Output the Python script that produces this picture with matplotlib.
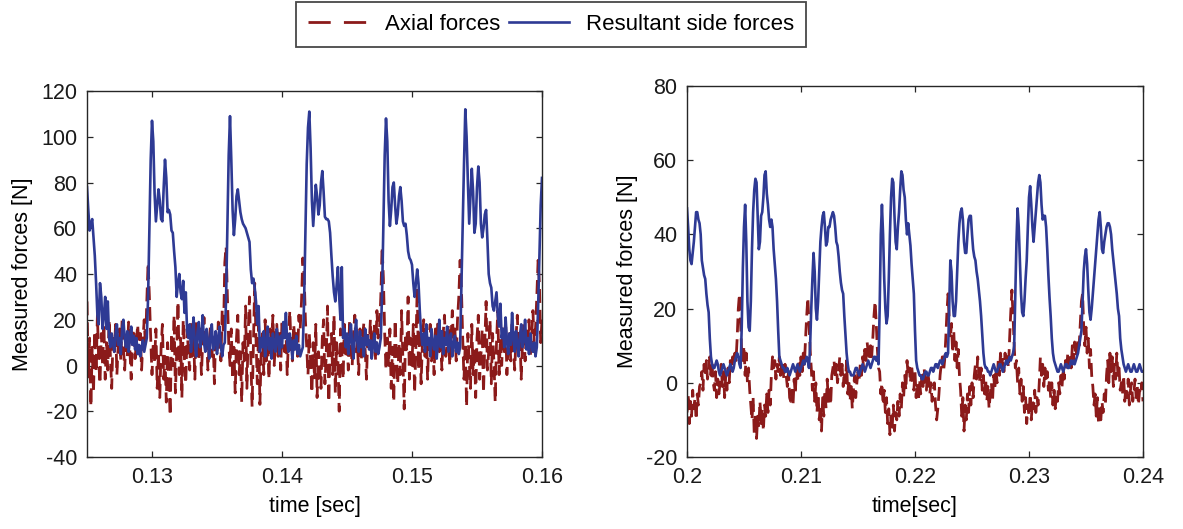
import numpy as np
import matplotlib
matplotlib.use("Agg")
import matplotlib.pyplot as plt
from matplotlib.lines import Line2D

plt.rcParams['font.family'] = ['Liberation Sans', 'DejaVu Sans']
plt.rcParams['lines.scale_dashes'] = False
plt.rcParams['axes.unicode_minus'] = False

# ---------------- data ----------------
left_time_range = (0.125, 0.160)
right_time_range = (0.200, 0.240)

left_side_force = [
    78, 68, 59, 62, 64, 56, 48, 36, 22, 18, 36, 30, 16, 22, 30, 16, 28, 12, 8, 14,
    10, 6, 14, 18, 9, 12, 5, 16, 20, 12, 8, 15, 6, 11, 17, 9, 13, 7, 12, 5, 9, 4, 8, 11, 6, 9,
    12, 30, 60, 90, 107, 98, 75, 63, 70, 77, 72, 64, 63, 78, 90, 82, 67, 68, 66, 59, 58, 50, 43, 30, 36, 40, 32, 29, 37, 23, 32, 15,
    12, 18, 6, 14, 21, 9, 4, 15, 19, 8, 12, 22, 10, 6, 16, 11, 3, 13, 18, 7, 10, 15, 5, 12, 17, 8, 4, 9,
    10, 30, 62, 92, 109, 90, 68, 57, 64, 74, 77, 72, 67, 64, 62, 61, 60, 58, 56, 54, 42, 36, 38, 34, 28, 18, 26, 6,
    12, 8, 15, 4, 10, 17, 7, 12, 3, 14, 9, 6, 16, 11, 5, 13, 8, 19, 12, 23, 10, 6, 14, 9, 3, 11, 7, 13, 5, 9, 4, 6,
    8, 28, 58, 88, 104, 111, 95, 72, 61, 70, 79, 74, 66, 70, 80, 85, 76, 65, 64, 64, 63, 58, 48, 39, 32, 28, 35, 43, 30, 20, 43, 12, 16,
    8, 14, 5, 11, 18, 9, 3, 13, 20, 10, 6, 15, 8, 12, 4, 16, 9, 13, 7, 11, 3, 9, 14, 6, 10, 5, 8,
    12, 32, 62, 92, 108, 98, 72, 61, 68, 78, 80, 70, 62, 66, 74, 78, 72, 63, 61, 62, 57, 50, 47, 46, 44, 36, 30, 36, 42, 36, 24, 14, 9,
    14, 6, 18, 9, 12, 4, 16, 10, 7, 13, 3, 11, 20, 8, 15, 5, 12, 9, 17, 6, 11, 14, 4, 9, 13, 6, 10, 5,
    8, 35, 62, 88, 112, 100, 80, 62, 74, 86, 76, 58, 62, 78, 87, 80, 62, 56, 60, 66, 68, 55, 40, 36, 34, 26, 24, 28, 32, 22, 17, 27, 12,
    16, 8, 21, 11, 5, 14, 9, 23, 12, 6, 15, 10, 4, 13, 18, 8, 11, 20, 7, 12, 5, 14, 9, 6, 10, 4,
    8, 25, 48, 70, 82,
]

left_axial_force = [
    28, -5, 12, -18, 8, -12, 15, -3, 22, 2,
    -8, 14, 0, 18, -6, 10, -2, 20, 4, -10,
    12, 6, 18, -4, 9, 16, 2, 20, 8, -2,
    14, 4, 19, 7, -6, 12, 16, 3, 10, 18,
    5, 14, -2, 11, 20, 8, 28, 45, 30, 12,
    -4, 10, 2, 16, -10, 6, -14, 8, 18, -6,
    4, -16, 10, -8, -22, 14, 0, 22, -12, 6,
    28, -4, 12, -14, 20, 2, -8, 16, 6, -2,
    18, 4, 12, -6, 20, 8, 2, 16, -4, 10,
    21, 6, 14, -2, 9, 18, 4, 12, -8, 15,
    6, 19, 10, 2, 24, 14, 45, 52, 30, 10,
    0, 16, -6, 8, -12, 12, 22, -4, 6, -16,
    10, 2, 26, -10, 14, 30, 4, -18, 8, 36,
    12, -8, 18, -17, 6, 14, -4, 20, 2, 10,
    -6, 16, 8, 22, 0, 12, 18, 4, 14, -2,
    20, 10, 6, 16, -4, 12, 24, 8, 2, 18,
    10, 14, 4, 22, 16, 28, 47, 40, 20, 8,
    -4, 14, 2, -12, 10, -6, 18, -14, 6, 0,
    -10, 12, 20, -8, 4, 26, -16, 8, 14, -4,
    22, -12, 10, 2, -20, 16, 6, -6, 18, 4,
    12, -2, 20, 8, 0, 14, 22, 6, 10, -4,
    16, 2, 12, 19, 6, -6, 14, 8, 20, 4,
    10, 18, 2, 24, 12, 16, 30, 52, 38, 14,
    -2, 12, 0, 16, -10, 8, -16, 20, 4, -8,
    10, -4, 24, 2, -19, 14, 6, 30, -6, 12,
    0, 18, -12, 8, 34, -2, 16, -8, 10, 20,
    4, 14, -6, 12, 18, 2, 10, -4, 16, 8,
    20, 6, 12, -2, 14, 22, 4, 10, 18, 0,
    12, 24, 8, 16, 2, 20, 30, 46, 34, 12,
    -6, 10, -18, 14, 2, -10, 18, -4, 8, -14,
    12, 22, -6, 4, 16, -12, 10, 28, -2, 6,
    20, -8, 14, 2, -16, 10, 24, -4, 12, 0,
    16, 6, 20, -4, 10, 14, 2, 18, 8, -2,
    12, 22, 6, 14, -6, 10, 18, 2, 16, 8,
    20, 4, 12, 24, 10, 16, 30, 46, 36, 10,
    20,
]

right_side_force = [
    47, 42, 36, 33, 32, 35, 38, 42, 46, 46,
    44, 43, 40, 33, 31, 29, 28, 24, 21, 19,
    12, 7, 5, 4, 4, 5, 6, 5, 3, 2,
    3, 4, 5, 4, 3, 2, 3, 4, 5, 4,
    3, 4, 6, 7, 8, 7, 5, 4, 15, 31,
    42, 48, 38, 22, 15, 14, 22, 36, 46, 52,
    55, 54, 45, 36, 38, 45, 46, 50, 56, 57,
    51, 48, 44, 42, 44, 42, 36, 32, 28, 22,
    14, 7, 6, 5, 4, 4, 3, 3, 4, 3,
    2, 3, 4, 5, 4, 3, 4, 5, 4, 3,
    4, 5, 6, 5, 6, 7, 6, 4, 10, 20,
    28, 35, 30, 20, 17, 22, 30, 38, 42, 45,
    46, 42, 37, 38, 42, 42, 44, 45, 46, 45,
    42, 38, 37, 34, 30, 27, 25, 24, 18, 13,
    8, 5, 3, 3, 2, 2, 2, 3, 4, 4,
    3, 2, 3, 4, 5, 4, 3, 4, 5, 6,
    5, 4, 5, 6, 7, 7, 6, 7, 5, 20,
    40, 48, 40, 28, 20, 16, 18, 28, 40, 50,
    55, 54, 45, 38, 36, 42, 46, 52, 57, 56,
    52, 50, 44, 40, 43, 40, 37, 32, 28, 24,
    14, 6, 4, 3, 2, 2, 1, 1, 2, 3,
    3, 2, 2, 3, 4, 4, 3, 4, 5, 5,
    4, 5, 6, 6, 5, 6, 7, 8, 7, 8,
    20, 33, 30, 22, 18, 18, 22, 30, 38, 43,
    46, 47, 44, 38, 35, 35, 40, 44, 45, 45,
    40, 36, 34, 33, 30, 28, 25, 22, 18, 13,
    8, 5, 4, 4, 3, 3, 2, 3, 4, 5,
    4, 3, 3, 4, 5, 5, 4, 3, 4, 5,
    6, 5, 6, 7, 6, 7, 8, 10, 24, 38,
    47, 42, 33, 24, 19, 18, 22, 28, 33, 42,
    50, 53, 48, 42, 38, 42, 46, 50, 54, 56,
    54, 48, 44, 45, 45, 42, 36, 29, 23, 18,
    12, 8, 6, 5, 4, 3, 3, 4, 5, 4,
    3, 4, 5, 5, 4, 4, 5, 6, 5, 6,
    5, 6, 7, 8, 10, 12, 14, 22, 30, 34,
    36, 32, 25, 19, 17, 20, 24, 28, 32, 36,
    40, 44, 46, 42, 36, 35, 38, 40, 42, 43,
    43, 42, 40, 36, 33, 30, 27, 24, 20, 18,
    12, 9, 7, 5, 4, 3, 4, 5, 4, 3,
    3, 4, 5, 4, 3, 3, 4, 5, 4, 3,
    3,
]

right_axial_force = [
    -8, -3, -11, -5, -9, -2, -7, -4, -10, -3, -6,
    -1, 0, 3, -2, 5, 2, 6, 1, 4, 7, 2, 5,
    0, -2, 3, -4, 1, -3, 0, 5, -1, 3, -4, 2, -2, 4, 0, 6, 3, 7, 5, 8, 6,
    12, 20, 24, 16, 8,
    6, 10, 2, 8, 0, 4, -2,
    -6, -10, -4, -14, -8, -15, -9, -12, -5, -11, -7, -13, -6, -9, -3, -8, -2, -6,
    2, 7, 4, 6, 1, 5, 3, 7, 2, 6, 4, 1, 5, 2, -1, 3,
    -4, -5, -2, -6, 1, -3, 4, 0, 6, 2, 7, 3, 8, 5,
    12, 18, 23, 16, 9, 4,
    -2, 3, -5, 0, -8, -3, -10, -6, -13, -4, -9, -2, -7, 1, -5, -1, -6, 2,
    4, 6, 1, 5, 0, 3, 7, 2, 5, -1, 3, 0, 6, -3, 1, -5, -1, -7, -2, 2, -4, 0, 3, 1, 5, 2, 7, 4, 9, 6, 11, 8, 6, 10, 7,
    12, 18, 22, 16, 9, 4,
    3, -3, 0, -6, -2, -8, -4, -11, -7, -14, -9, -12, -6, -13, -8, -10, -5, -9, -3, -7, 0, -4, 2, -2,
    6, 2, 4, 0, 5, 1, -2, 3, -4, 0, -5, 1, -3, 2, -1, 4, 0, -2, 3, 1, -3, 0, -5, -2, 0,
    -6, -10, -7, -3, 2, 5, 7, 3, 6,
    12, 19, 24, 17,
    12, 16, 8, 14, 6, 11, 4, 9, 2,
    -2, -9, -4, -13, -6, -10, -3, -8, -1, -6, 0, -4, 2,
    5, 1, 7, 3, 0, 4, -2, 2, -3, 1, -5, -1, -7, -3, 0, -5, 2, -2, 4, 0, 6, 2, 8, 4, 7, 3, 8, 5, 7, 4,
    12, 19, 25, 18, 10, 4,
    6, 0, 4, -3, 1, -5, -1, -8, -4, -11, -6, -9, -3, -10, -5, -7, -2, -8, -4, -6, 0,
    7, 2, 5, -1, 4, 0, 3, -2, 1, -4, 0, -6, -2, -7, -3, -5, 0, -3, 2, -1, 4, 1, 6, 3, 8, 5,
    8, 4, 10, 6, 11, 7, 9, 12, 10,
    16, 22, 24, 15,
    10, 15, 8, 12, 4, 9, 2,
    -1, -6, -3, -9, -4, -11, -7, -10, -5, -8, -3, -6,
    2, 6, 0, 8, 3, 7, -1, 5, 1, 8, 2, 4, -2,
    0, -3, 2, -5, -1, -4, 1, -6, -2, 0, -5, -3, 1, -4, -1, -6, -2, -3, 0, -5,
]

left_xticks = [0.13, 0.14, 0.15, 0.16]
left_xticklabels = ['0.13', '0.14', '0.15', '0.16']
left_yticks = [-40, -20, 0, 20, 40, 60, 80, 100, 120]
right_xticks = [0.20, 0.21, 0.22, 0.23, 0.24]
right_xticklabels = ['0.2', '0.21', '0.22', '0.23', '0.24']
right_yticks = [-20, 0, 20, 40, 60, 80]
legend_labels = ['Axial forces', 'Resultant side forces']
ylabel_text = 'Measured forces [N]'
left_xlabel = 'time [sec]'
right_xlabel = 'time[sec]'

# ---------------- style ----------------
BLUE = '#2E3A94'
RED = '#8B1A1A'
SPINE = '#262626'
FS = 15.5
RED_DASH = (0, (10, 5))
LW_BLUE = 1.9
LW_RED = 2.0

fig = plt.figure(figsize=(11.83, 5.29), dpi=100)
ax1 = fig.add_axes([87 / 1183, 1 - 457 / 529, 455 / 1183, 366 / 529])
ax2 = fig.add_axes([687 / 1183, 1 - 457 / 529, 456 / 1183, 371 / 529])


def style_axes(ax):
    for s in ax.spines.values():
        s.set_color(SPINE)
        s.set_linewidth(1.0)
    ax.tick_params(direction='in', top=True, right=True, length=4.5, width=0.9,
                   colors=SPINE, labelsize=FS, pad=7)
    for lab in ax.get_xticklabels() + ax.get_yticklabels():
        lab.set_color('#1a1a1a')


# left panel
tl_b = np.linspace(*left_time_range, len(left_side_force))
tl_r = np.linspace(*left_time_range, len(left_axial_force))
ax1.plot(tl_r, left_axial_force, color=RED, lw=LW_RED, linestyle=RED_DASH)
ax1.plot(tl_b, left_side_force, color=BLUE, lw=LW_BLUE)
ax1.set_xlim(*left_time_range)
ax1.set_ylim(-40, 120)
ax1.set_xticks(left_xticks)
ax1.set_xticklabels(left_xticklabels)
ax1.set_yticks(left_yticks)
ax1.set_xlabel(left_xlabel, fontsize=FS, labelpad=6)
ax1.set_ylabel(ylabel_text, fontsize=FS, labelpad=6)
style_axes(ax1)

# right panel
tr_b = np.linspace(*right_time_range, len(right_side_force))
tr_r = np.linspace(*right_time_range, len(right_axial_force))
ax2.plot(tr_r, right_axial_force, color=RED, lw=LW_RED, linestyle=RED_DASH)
ax2.plot(tr_b, right_side_force, color=BLUE, lw=LW_BLUE)
ax2.set_xlim(*right_time_range)
ax2.set_ylim(-20, 80)
ax2.set_xticks(right_xticks)
ax2.set_xticklabels(right_xticklabels)
ax2.set_yticks(right_yticks)
ax2.set_xlabel(right_xlabel, fontsize=FS, labelpad=6)
ax2.set_ylabel(ylabel_text, fontsize=FS, labelpad=6)
style_axes(ax2)

handles = [Line2D([], [], color=RED, lw=LW_RED, linestyle=(0, (16, 9.5))),
           Line2D([], [], color=BLUE, lw=LW_BLUE)]
leg = fig.legend(handles, legend_labels, loc='upper center',
                 bbox_to_anchor=(551 / 1183, 1 - 2 / 529), ncol=2, fontsize=FS + 0.5,
                 frameon=True, fancybox=False, edgecolor='#1a1a1a',
                 handlelength=2.7, handletextpad=0.75, columnspacing=0.4,
                 borderpad=0.55, borderaxespad=0.0)
leg.get_frame().set_linewidth(1.3)

fig.savefig('out.png', dpi=100)
